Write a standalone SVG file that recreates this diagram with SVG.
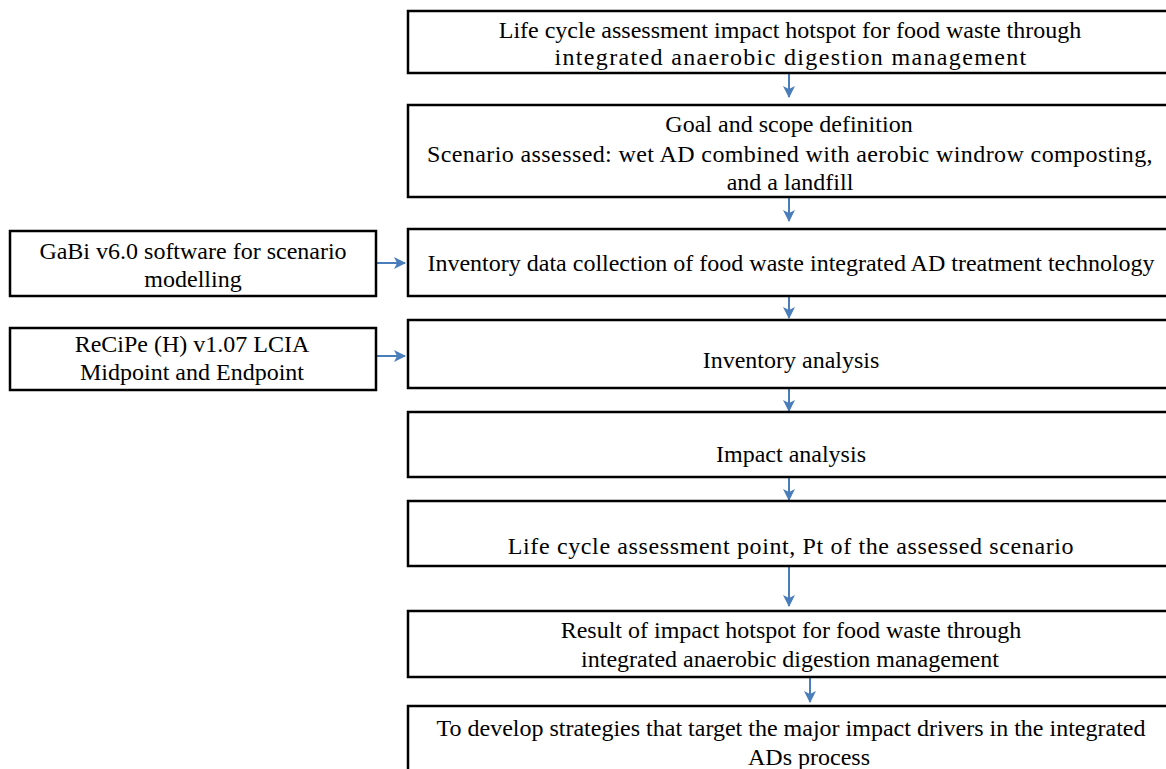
<svg xmlns="http://www.w3.org/2000/svg" width="1166" height="769" viewBox="0 0 1166 769">
<style>
.box{fill:#fff;stroke:#000;stroke-width:2.5}
.t{font-family:"Liberation Serif","Times New Roman",serif;font-size:24px;fill:#000;text-anchor:middle}
.l{font-family:"Liberation Serif","Times New Roman",serif;font-size:24px;fill:#000;text-anchor:middle}
.c{stroke:#4a7ebb;stroke-width:2;fill:none}
</style>
<defs>
<marker id="ah" viewBox="0 0 12 12" refX="11" refY="6" markerWidth="12" markerHeight="12" markerUnits="userSpaceOnUse" orient="auto">
<path d="M0,0 L12,6 L0,12 L3,6 Z" fill="#4a7ebb"/>
</marker>
</defs>
<rect width="1166" height="769" fill="#fff"/>
<g id="connectors">
<line class="c" x1="789" y1="73" x2="789" y2="97" marker-end="url(#ah)"/>
<line class="c" x1="789" y1="197" x2="789" y2="221" marker-end="url(#ah)"/>
<line class="c" x1="789" y1="296" x2="789" y2="318" marker-end="url(#ah)"/>
<line class="c" x1="789" y1="388" x2="789" y2="411" marker-end="url(#ah)"/>
<line class="c" x1="789" y1="477" x2="789" y2="500" marker-end="url(#ah)"/>
<line class="c" x1="789" y1="566" x2="789" y2="606" marker-end="url(#ah)"/>
<line class="c" x1="810" y1="677" x2="810" y2="702" marker-end="url(#ah)"/>
<line class="c" x1="376" y1="263" x2="405" y2="263" marker-end="url(#ah)"/>
<line class="c" x1="376" y1="356" x2="405" y2="356" marker-end="url(#ah)"/>
</g>
<g id="n1"><rect class="box" x="408" y="11" width="760" height="62"/>
<text class="t" x="790" y="38">Life cycle assessment impact hotspot for food waste through</text>
<text class="t" x="791" y="65" letter-spacing="1.35">integrated anaerobic digestion management</text></g>
<g id="n2"><rect class="box" x="408" y="105" width="760" height="92"/>
<text class="t" x="789" y="132">Goal and scope definition</text>
<text class="t" x="790" y="162" letter-spacing="0.4">Scenario assessed: wet AD combined with aerobic windrow composting,</text>
<text class="t" x="790" y="190">and a landfill</text></g>
<g id="n3"><rect class="box" x="408" y="229" width="760" height="67"/>
<text class="t" x="791" y="271">Inventory data collection of food waste integrated AD treatment technology</text></g>
<g id="n4"><rect class="box" x="408" y="320" width="760" height="68"/>
<text class="t" x="791" y="368">Inventory analysis</text></g>
<g id="n5"><rect class="box" x="408" y="412" width="760" height="65"/>
<text class="t" x="791" y="462">Impact analysis</text></g>
<g id="n6"><rect class="box" x="408" y="501" width="760" height="65"/>
<text class="t" x="791" y="554" letter-spacing="0.63">Life cycle assessment point, Pt of the assessed scenario</text></g>
<g id="n7"><rect class="box" x="408" y="611" width="760" height="66"/>
<text class="t" x="791" y="638">Result of impact hotspot for food waste through</text>
<text class="t" x="790" y="667">integrated anaerobic digestion management</text></g>
<g id="n8"><rect class="box" x="408" y="706" width="760" height="80"/>
<text class="t" x="791" y="736">To develop strategies that target the major impact drivers in the integrated</text>
<text class="t" x="809" y="765">ADs process</text></g>
<g id="gabi"><rect class="box" x="10" y="231" width="366" height="65"/>
<text class="l" x="193" y="259">GaBi v6.0 software for scenario</text>
<text class="l" x="193" y="287">modelling</text></g>
<g id="recipe"><rect class="box" x="10" y="328" width="366" height="62"/>
<text class="l" x="192" y="352">ReCiPe (H) v1.07 LCIA</text>
<text class="l" x="192" y="380">Midpoint and Endpoint</text></g>
</svg>
